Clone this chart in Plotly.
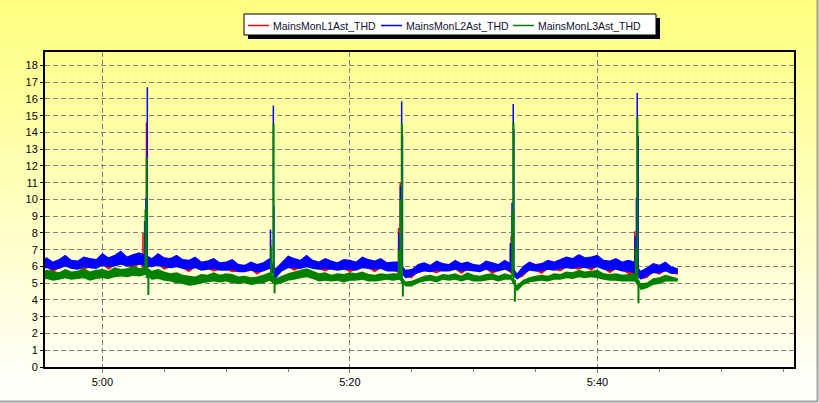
import base64
import pandas as pd
import plotly.graph_objects as go

# ---------------- data ----------------
DAY = "2021-01-01 "
band_start = "04:55:00"      # first 30-s bin
band_step = "30s"

series_names = ["MainsMonL1Ast_THD", "MainsMonL2Ast_THD", "MainsMonL3Ast_THD"]
series_colors = ["#FF0000", "#0000FF", "#008000"]

# per 30-s bin: upper / lower envelope of the noisy signal
red_hi = [6.1, 6.2, 6.0, 6.25, 6.1, 6.2, 6.05, 6.3, 6.15, 6.2, 6.4, 6.3, 6.5, 6.35, 6.6, 6.4, 6.5,
          6.4,
          6.2, 6.4, 6.3, 6.2, 6.3, 6.1, 6.2, 6.0, 6.1, 6.0, 6.05, 5.9, 6.0, 5.95, 5.85, 5.9, 5.85, 5.9, 6.0, 6.1,
          5.7,
          6.0, 6.2, 6.3, 6.2, 6.1, 6.15, 6.05, 6.0, 6.1, 6.0, 5.95, 6.05, 6.1, 6.2, 6.15, 6.05, 6.0, 5.95, 6.0,
          6.0, 5.6, 5.6, 5.85,
          5.9, 5.85, 5.9, 5.9, 5.95, 5.9, 6.0, 5.9, 5.9, 5.9, 5.95, 5.9, 6.0, 5.95,
          5.9, 5.4, 5.75,
          5.9, 5.9, 5.95, 5.9, 6.0, 6.1, 6.2, 6.25, 6.3, 6.2, 6.3, 6.15, 6.1, 6.05, 6.0, 6.1, 6.0,
          6.0, 5.5, 5.65, 5.85, 5.9, 5.9, 5.85, 5.75]
red_lo = [5.9, 5.95, 5.65, 5.9, 6.05, 5.9, 5.85, 5.8, 5.95, 5.9, 6.1, 5.8, 6.05, 6.15, 6.05, 5.9, 6.15,
          5.9,
          6.0, 6.1, 5.8, 5.95, 6.0, 5.9, 5.65, 5.95, 5.8, 5.85, 5.7, 5.8, 5.8, 5.65, 5.7, 5.7, 5.8, 5.5, 5.75, 5.9,
          5.25,
          5.75, 5.95, 5.75, 5.9, 6.0, 5.9, 5.85, 5.7, 5.85, 5.8, 5.85, 5.65, 5.8, 5.95, 5.9, 5.65, 5.9, 5.75, 5.75,
          5.6, 5.35, 5.3, 5.65,
          5.75, 5.7, 5.6, 5.75, 5.75, 5.85, 5.55, 5.8, 5.75, 5.7, 5.85, 5.55, 5.75, 5.85,
          5.6, 5.25, 5.4,
          5.8, 5.75, 5.55, 5.85, 5.8, 5.7, 5.95, 5.9, 5.8, 5.95, 5.75, 6.0, 5.85, 5.6, 5.85, 5.75, 5.55,
          5.5, 5.25, 5.3, 5.65, 5.5, 5.75, 5.6, 5.5]
blue_hi = [6.4, 6.55, 6.3, 6.45, 6.7, 6.4, 6.35, 6.6, 6.5, 6.45, 6.8, 6.55, 6.7, 6.95, 6.6, 6.75, 6.85,
           6.7,
           6.5, 6.8, 6.55, 6.5, 6.7, 6.45, 6.4, 6.6, 6.3, 6.35, 6.5, 6.25, 6.3, 6.45, 6.15, 6.1, 6.3, 6.15, 6.25, 6.5,
           5.9,
           6.3, 6.65, 6.5, 6.4, 6.7, 6.4, 6.3, 6.5, 6.35, 6.25, 6.45, 6.4, 6.3, 6.6, 6.45, 6.35, 6.5, 6.25, 6.3,
           6.3, 5.8, 5.85, 6.15,
           6.25, 6.1, 6.35, 6.2, 6.15, 6.4, 6.2, 6.3, 6.15, 6.1, 6.35, 6.25, 6.15, 6.4,
           6.2, 5.6, 6.05,
           6.3, 6.15, 6.2, 6.4, 6.3, 6.45, 6.6, 6.5, 6.75, 6.55, 6.6, 6.7, 6.4, 6.35, 6.5, 6.3, 6.4,
           6.3, 5.75, 5.95, 6.2, 6.1, 6.3, 6.0, 5.9]
blue_lo = [5.85, 5.9, 5.8, 5.85, 6.0, 5.85, 5.8, 5.95, 5.9, 5.85, 6.05, 5.95, 6.0, 6.1, 6.0, 6.05, 6.1,
           6.0,
           5.95, 6.05, 5.95, 5.9, 5.95, 5.85, 5.8, 5.9, 5.75, 5.8, 5.85, 5.75, 5.75, 5.8, 5.65, 5.65, 5.75, 5.65, 5.7, 5.85,
           5.3,
           5.7, 5.9, 5.9, 5.85, 5.95, 5.85, 5.8, 5.85, 5.8, 5.75, 5.8, 5.8, 5.75, 5.9, 5.85, 5.8, 5.85, 5.7, 5.7,
           5.7, 5.3, 5.4, 5.6,
           5.7, 5.65, 5.75, 5.7, 5.7, 5.8, 5.7, 5.75, 5.7, 5.65, 5.8, 5.7, 5.7, 5.8,
           5.7, 5.2, 5.5,
           5.75, 5.7, 5.7, 5.8, 5.75, 5.85, 5.9, 5.85, 5.95, 5.9, 5.9, 5.95, 5.8, 5.75, 5.8, 5.7, 5.7,
           5.6, 5.2, 5.4, 5.6, 5.6, 5.7, 5.55, 5.6]
green_hi = [5.7, 5.8, 5.75, 5.65, 5.85, 5.7, 5.75, 5.9, 5.7, 5.8, 5.85, 5.75, 5.95, 5.85, 5.9, 6.05, 5.9,
            6.0,
            5.75, 5.85, 5.7, 5.6, 5.65, 5.5, 5.45, 5.4, 5.55, 5.5, 5.65, 5.5, 5.6, 5.55, 5.4, 5.45, 5.35, 5.4, 5.5, 5.65,
            5.3,
            5.45, 5.6, 5.7, 5.8, 5.9, 5.75, 5.6, 5.65, 5.5, 5.6, 5.55, 5.65, 5.6, 5.7, 5.55, 5.5, 5.6, 5.55, 5.6,
            5.6, 5.1, 5.15, 5.3,
            5.45, 5.5, 5.4, 5.55, 5.5, 5.6, 5.45, 5.65, 5.5, 5.45, 5.55, 5.6, 5.45, 5.6,
            5.5, 4.9, 5.2,
            5.35, 5.45, 5.5, 5.45, 5.6, 5.55, 5.7, 5.65, 5.8, 5.7, 5.75, 5.8, 5.6, 5.55, 5.6, 5.5, 5.55,
            5.6, 5.0, 5.05, 5.3, 5.35, 5.5, 5.4, 5.3]
green_lo = [5.2, 5.25, 5.15, 5.2, 5.3, 5.2, 5.25, 5.3, 5.15, 5.25, 5.3, 5.25, 5.35, 5.4, 5.35, 5.45, 5.4,
            5.5,
            5.2, 5.25, 5.15, 5.1, 5.0, 4.95, 4.85, 4.9, 5.0, 5.05, 5.1, 5.05, 5.1, 5.0, 4.95, 5.0, 4.9, 4.95, 5.0, 5.15,
            4.9,
            5.0, 5.15, 5.2, 5.3, 5.35, 5.25, 5.1, 5.15, 5.1, 5.15, 5.05, 5.15, 5.15, 5.2, 5.1, 5.1, 5.15, 5.2, 5.15,
            5.2, 4.8, 4.8, 5.0,
            5.1, 5.15, 5.05, 5.2, 5.15, 5.2, 5.1, 5.2, 5.1, 5.1, 5.15, 5.2, 5.1, 5.2,
            5.2, 4.5, 4.9,
            5.05, 5.1, 5.15, 5.1, 5.2, 5.2, 5.3, 5.25, 5.35, 5.3, 5.35, 5.3, 5.2, 5.15, 5.15, 5.1, 5.1,
            5.1, 4.6, 4.7, 4.9, 4.95, 5.1, 5.1, 5.1]

# transient spikes: (time, low, high) vertical strokes
red_spikes = [("05:03:17", 5.8, 8.0), ("05:03:34", 5.8, 14.6),
              ("05:13:36", 5.7, 7.6),
              ("05:23:56", 5.7, 8.3), ("05:24:04", 5.7, 11.0),
              ("05:32:58", 5.8, 7.0), ("05:33:02", 5.8, 7.8),
              ("05:43:01", 5.7, 8.1)]
blue_spikes = [("05:03:25", 6.0, 8.7), ("05:03:31", 6.0, 10.1), ("05:03:38", 5.8, 16.7),
               ("05:13:35", 5.9, 8.2), ("05:13:49", 5.8, 15.6), ("05:13:52", 5.6, 9.6),
               ("05:23:57", 5.7, 8.0), ("05:24:05", 5.7, 10.8), ("05:24:11", 5.7, 15.85), ("05:24:15", 5.5, 13.8),
               ("05:32:58", 5.8, 7.4), ("05:33:06", 5.8, 9.8), ("05:33:12", 5.7, 15.7), ("05:33:15", 5.5, 14.2),
               ("05:43:02", 5.7, 7.8), ("05:43:09", 5.7, 10.1), ("05:43:13", 5.6, 16.35), ("05:43:18", 5.5, 13.8)]
green_spikes = [("05:03:29", 5.5, 9.4), ("05:03:35", 5.3, 12.5), ("05:03:43", 4.3, 5.6),
                ("05:13:38", 5.4, 7.2), ("05:13:50", 5.0, 14.5), ("05:13:55", 4.4, 5.4),
                ("05:23:57", 5.3, 7.0), ("05:24:06", 5.2, 10.0), ("05:24:12", 5.0, 14.5), ("05:24:17", 4.2, 5.2),
                ("05:33:07", 5.4, 9.2), ("05:33:13", 5.0, 14.6), ("05:33:20", 3.9, 5.2),
                ("05:43:06", 5.3, 7.1), ("05:43:14", 5.0, 14.9), ("05:43:19", 3.8, 5.2)]

x_range = ["04:55:22", "05:55:53"]
y_range = [0, 18.8]

# ---------------- figure ----------------
W, H = 819, 403
ML, MR, MT, MB = 45, 25, 52, 36
PW, PH = W - ML - MR, H - MT - MB

times = pd.date_range(DAY + band_start, periods=len(blue_hi), freq=band_step)
FONT = "Liberation Sans, Arial, sans-serif"

fig = go.Figure()


def add_series(name, color, hi, lo, spikes, sw):
    fig.add_trace(go.Scatter(x=times, y=lo, mode="lines", line=dict(width=0, color=color),
                             showlegend=False, hoverinfo="skip"))
    fig.add_trace(go.Scatter(x=times, y=hi, mode="lines", line=dict(width=0, color=color),
                             fill="tonexty", fillcolor=color, showlegend=False, hoverinfo="skip"))
    sx, sy = [], []
    for t, a, b in spikes:
        sx += [DAY + t, DAY + t, None]
        sy += [a, b, None]
    fig.add_trace(go.Scatter(x=sx, y=sy, mode="lines", name=name,
                             line=dict(width=sw, color=color), showlegend=False))


add_series(series_names[0], series_colors[0], red_hi, red_lo, red_spikes, 1.5)
add_series(series_names[1], series_colors[1], blue_hi, blue_lo, blue_spikes, 1.5)
add_series(series_names[2], series_colors[2], green_hi, green_lo, green_spikes, 2)

# yellow gradient background
svg = ('<svg xmlns="http://www.w3.org/2000/svg" width="100" height="100" preserveAspectRatio="none">'
       '<defs><linearGradient id="g" x1="0" y1="0" x2="0" y2="1">'
       '<stop offset="0" stop-color="#FFFF7E"/><stop offset="1" stop-color="#FFFFFF"/>'
       '</linearGradient></defs><rect width="100" height="100" fill="url(#g)"/></svg>')
src = "data:image/svg+xml;base64," + base64.b64encode(svg.encode()).decode()


def px_x(p):
    return (p - ML) / PW


def px_y(p):
    return (H - MB - p) / PH


fig.add_layout_image(dict(source=src, xref="paper", yref="paper", x=px_x(0), y=px_y(0),
                          sizex=W / PW, sizey=H / PH, sizing="stretch", xanchor="left",
                          yanchor="top", layer="below"))

# outer frame
fig.add_shape(type="line", xref="paper", yref="paper", x0=px_x(817.5), x1=px_x(817.5),
              y0=px_y(0), y1=px_y(402), line=dict(color="#A0A0A0", width=2))
fig.add_shape(type="line", xref="paper", yref="paper", x0=px_x(0), x1=px_x(818),
              y0=px_y(401.5), y1=px_y(401.5), line=dict(color="#A0A0A0", width=2))

# legend box (drop shadow + white frame) with line samples and labels
fig.add_shape(type="rect", xref="paper", yref="paper", x0=px_x(248), x1=px_x(660),
              y0=px_y(39), y1=px_y(18), fillcolor="black", line=dict(width=0))
fig.add_shape(type="rect", xref="paper", yref="paper", x0=px_x(244), x1=px_x(656),
              y0=px_y(35), y1=px_y(14), fillcolor="white", line=dict(color="black", width=1))
legend_line_x = [248, 381, 513]
legend_text_x = [271, 404, 536]
for name, color, lx, tx in zip(series_names, series_colors, legend_line_x, legend_text_x):
    fig.add_shape(type="line", xref="paper", yref="paper", x0=px_x(lx), x1=px_x(lx + 21),
                  y0=px_y(25.5), y1=px_y(25.5), line=dict(color=color, width=1.5))
    fig.add_annotation(xref="paper", yref="paper", x=px_x(tx), y=px_y(25.5), text=name,
                       showarrow=False, xanchor="left", yanchor="middle",
                       font=dict(family=FONT, size=10.5, color="#101030"))

grid = dict(showgrid=True, gridcolor="#808080", gridwidth=1, griddash="5px,3px")

fig.update_layout(
    width=W, height=H,
    margin=dict(l=ML, r=MR, t=MT, b=MB, autoexpand=False),
    paper_bgcolor="white", plot_bgcolor="rgba(0,0,0,0)",
    font=dict(family=FONT, size=11, color="black"),
    showlegend=False,
    xaxis=dict(type="date", range=[DAY + x_range[0], DAY + x_range[1]],
               tick0=DAY + "05:00:00", dtick=20 * 60 * 1000, tickformat="%-H:%M",
               ticks="outside", ticklen=4, tickcolor="#808080",
               tickfont=dict(family=FONT, size=11, color="black"),
               showline=True, linecolor="black", linewidth=2, mirror=True, automargin=False,
               minor=dict(dtick=5 * 60 * 1000, ticks="outside", ticklen=3, tickcolor="#808080",
                          showgrid=False),
               **grid),
    yaxis=dict(range=y_range, tick0=0, dtick=1, ticks="outside", ticklen=3, tickcolor="black",
               tickfont=dict(family=FONT, size=11, color="black"),
               showline=True, linecolor="black", linewidth=2, mirror=True, zeroline=False,
               automargin=False, **grid),
)

fig.write_html("out.html", config={"displayModeBar": False},
               post_script="document.body.style.margin='0';")
